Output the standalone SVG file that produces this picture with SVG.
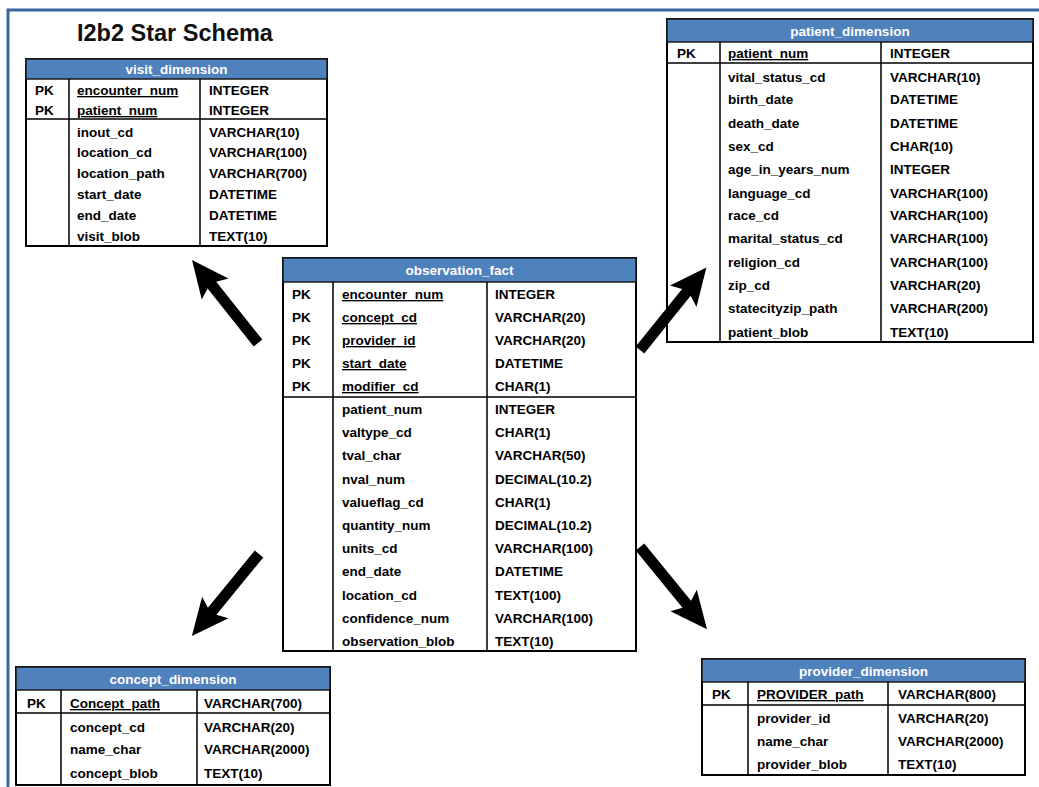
<svg xmlns="http://www.w3.org/2000/svg" width="1039" height="787" viewBox="0 0 1039 787">
  <style>
    .frame { fill: none; stroke: #3e66a1; stroke-width: 3; }
    .title { font-family: "Liberation Sans", Arial, sans-serif; font-weight: bold; font-size: 23.5px; fill: #111; }
    .box { fill: #fff; stroke: #000; stroke-width: 2; }
    .head { fill: #4f81bd; stroke: #1a1a1a; stroke-width: 1.5; }
    .htxt { font-family: "Liberation Sans", Arial, sans-serif; font-weight: bold; font-size: 13.5px; fill: #fff; text-anchor: middle; }
    .rule { stroke: #000; stroke-width: 1.5; fill: none; }
    .t { font-family: "Liberation Sans", Arial, sans-serif; font-weight: bold; font-size: 13.5px; fill: #000; }
    .k { text-decoration: underline; }
    .arrow { fill: #000; }
  </style>
  <defs>
    <!-- block arrow pointing along +x, tail at origin -->
    <polygon id="blockArrow" points="0,-5.5 74,-5.5 69,-17 106,0 69,17 74,5.5 0,5.5"/>
  </defs>

  <rect width="1039" height="787" fill="#fff"/>
  <path class="frame" d="M8,787 V10 H1039"/>

  <text class="title" x="77" y="41">I2b2 Star Schema</text>

  <!-- visit_dimension -->
  <g id="visit_dimension">
    <rect class="box" x="26" y="59" width="301" height="187"/>
    <rect class="head" x="26" y="59" width="301" height="20"/>
    <text class="htxt" x="176.5" y="74">visit_dimension</text>
    <path class="rule" d="M69,79 V246 M200,79 V246 M26,119 H327"/>
    <text class="t" x="35" y="95">PK</text>
    <text class="t" x="35" y="115">PK</text>
    <text class="t k" x="77" y="95">encounter_num</text>
    <text class="t k" x="77" y="115">patient_num</text>
    <text class="t" x="77" y="137">inout_cd</text>
    <text class="t" x="77" y="157">location_cd</text>
    <text class="t" x="77" y="178">location_path</text>
    <text class="t" x="77" y="199">start_date</text>
    <text class="t" x="77" y="220">end_date</text>
    <text class="t" x="77" y="241">visit_blob</text>
    <text class="t" x="209" y="95">INTEGER</text>
    <text class="t" x="209" y="115">INTEGER</text>
    <text class="t" x="209" y="137">VARCHAR(10)</text>
    <text class="t" x="209" y="157">VARCHAR(100)</text>
    <text class="t" x="209" y="178">VARCHAR(700)</text>
    <text class="t" x="209" y="199">DATETIME</text>
    <text class="t" x="209" y="220">DATETIME</text>
    <text class="t" x="209" y="241">TEXT(10)</text>
  </g>

  <!-- patient_dimension -->
  <g id="patient_dimension">
    <rect class="box" x="667" y="19" width="366" height="323"/>
    <rect class="head" x="667" y="19" width="366" height="23"/>
    <text class="htxt" x="850" y="35.5">patient_dimension</text>
    <path class="rule" d="M720,42 V342 M881,42 V342 M667,63 H1033"/>
    <text class="t" x="677" y="58">PK</text>
    <text class="t k" x="728" y="58">patient_num</text>
    <text class="t" x="728" y="82">vital_status_cd</text>
    <text class="t" x="728" y="104">birth_date</text>
    <text class="t" x="728" y="128">death_date</text>
    <text class="t" x="728" y="151">sex_cd</text>
    <text class="t" x="728" y="174">age_in_years_num</text>
    <text class="t" x="728" y="198">language_cd</text>
    <text class="t" x="728" y="220">race_cd</text>
    <text class="t" x="728" y="243">marital_status_cd</text>
    <text class="t" x="728" y="267">religion_cd</text>
    <text class="t" x="728" y="290">zip_cd</text>
    <text class="t" x="728" y="313">statecityzip_path</text>
    <text class="t" x="728" y="337">patient_blob</text>
    <text class="t" x="890" y="58">INTEGER</text>
    <text class="t" x="890" y="82">VARCHAR(10)</text>
    <text class="t" x="890" y="104">DATETIME</text>
    <text class="t" x="890" y="128">DATETIME</text>
    <text class="t" x="890" y="151">CHAR(10)</text>
    <text class="t" x="890" y="174">INTEGER</text>
    <text class="t" x="890" y="198">VARCHAR(100)</text>
    <text class="t" x="890" y="220">VARCHAR(100)</text>
    <text class="t" x="890" y="243">VARCHAR(100)</text>
    <text class="t" x="890" y="267">VARCHAR(100)</text>
    <text class="t" x="890" y="290">VARCHAR(20)</text>
    <text class="t" x="890" y="313">VARCHAR(200)</text>
    <text class="t" x="890" y="337">TEXT(10)</text>
  </g>

  <!-- observation_fact -->
  <g id="observation_fact">
    <rect class="box" x="283" y="258" width="353" height="393"/>
    <rect class="head" x="283" y="258" width="353" height="24"/>
    <text class="htxt" x="459.5" y="275">observation_fact</text>
    <path class="rule" d="M333,282 V651 M487,282 V651 M283,397 H636"/>
    <text class="t" x="292" y="299">PK</text>
    <text class="t" x="292" y="322">PK</text>
    <text class="t" x="292" y="345">PK</text>
    <text class="t" x="292" y="368">PK</text>
    <text class="t" x="292" y="391">PK</text>
    <text class="t k" x="342" y="299">encounter_num</text>
    <text class="t k" x="342" y="322">concept_cd</text>
    <text class="t k" x="342" y="345">provider_id</text>
    <text class="t k" x="342" y="368">start_date</text>
    <text class="t k" x="342" y="391">modifier_cd</text>
    <text class="t" x="342" y="414">patient_num</text>
    <text class="t" x="342" y="437">valtype_cd</text>
    <text class="t" x="342" y="460">tval_char</text>
    <text class="t" x="342" y="484">nval_num</text>
    <text class="t" x="342" y="507">valueflag_cd</text>
    <text class="t" x="342" y="530">quantity_num</text>
    <text class="t" x="342" y="553">units_cd</text>
    <text class="t" x="342" y="576">end_date</text>
    <text class="t" x="342" y="600">location_cd</text>
    <text class="t" x="342" y="623">confidence_num</text>
    <text class="t" x="342" y="646">observation_blob</text>
    <text class="t" x="495" y="299">INTEGER</text>
    <text class="t" x="495" y="322">VARCHAR(20)</text>
    <text class="t" x="495" y="345">VARCHAR(20)</text>
    <text class="t" x="495" y="368">DATETIME</text>
    <text class="t" x="495" y="391">CHAR(1)</text>
    <text class="t" x="495" y="414">INTEGER</text>
    <text class="t" x="495" y="437">CHAR(1)</text>
    <text class="t" x="495" y="460">VARCHAR(50)</text>
    <text class="t" x="495" y="484">DECIMAL(10.2)</text>
    <text class="t" x="495" y="507">CHAR(1)</text>
    <text class="t" x="495" y="530">DECIMAL(10.2)</text>
    <text class="t" x="495" y="553">VARCHAR(100)</text>
    <text class="t" x="495" y="576">DATETIME</text>
    <text class="t" x="495" y="600">TEXT(100)</text>
    <text class="t" x="495" y="623">VARCHAR(100)</text>
    <text class="t" x="495" y="646">TEXT(10)</text>
  </g>

  <!-- concept_dimension -->
  <g id="concept_dimension">
    <rect class="box" x="16" y="667" width="314" height="118"/>
    <rect class="head" x="16" y="667" width="314" height="23"/>
    <text class="htxt" x="173" y="683.5">concept_dimension</text>
    <path class="rule" d="M61,690 V785 M197,690 V785 M16,713 H330"/>
    <text class="t" x="27" y="708">PK</text>
    <text class="t k" x="70" y="708">Concept_path</text>
    <text class="t" x="70" y="732">concept_cd</text>
    <text class="t" x="70" y="754">name_char</text>
    <text class="t" x="70" y="778">concept_blob</text>
    <text class="t" x="204" y="708">VARCHAR(700)</text>
    <text class="t" x="204" y="732">VARCHAR(20)</text>
    <text class="t" x="204" y="754">VARCHAR(2000)</text>
    <text class="t" x="204" y="778">TEXT(10)</text>
  </g>

  <!-- provider_dimension -->
  <g id="provider_dimension">
    <rect class="box" x="702" y="659" width="323" height="116"/>
    <rect class="head" x="702" y="659" width="323" height="23"/>
    <text class="htxt" x="863.5" y="675.5">provider_dimension</text>
    <path class="rule" d="M748,682 V775 M888,682 V775 M702,705 H1025"/>
    <text class="t" x="712" y="699">PK</text>
    <text class="t k" x="757" y="699">PROVIDER_path</text>
    <text class="t" x="757" y="723">provider_id</text>
    <text class="t" x="757" y="746">name_char</text>
    <text class="t" x="757" y="769">provider_blob</text>
    <text class="t" x="898" y="699">VARCHAR(800)</text>
    <text class="t" x="898" y="723">VARCHAR(20)</text>
    <text class="t" x="898" y="746">VARCHAR(2000)</text>
    <text class="t" x="898" y="769">TEXT(10)</text>
  </g>

  <!-- connectors: fact table to each dimension -->
  <g id="connectors" class="arrow">
    <use href="#blockArrow" transform="translate(258,343) rotate(231.5)"/>
    <use href="#blockArrow" transform="translate(640,350) rotate(-51.2)"/>
    <use href="#blockArrow" transform="translate(259,554) rotate(129.3)"/>
    <use href="#blockArrow" transform="translate(640,547) rotate(50.8)"/>
  </g>
</svg>
